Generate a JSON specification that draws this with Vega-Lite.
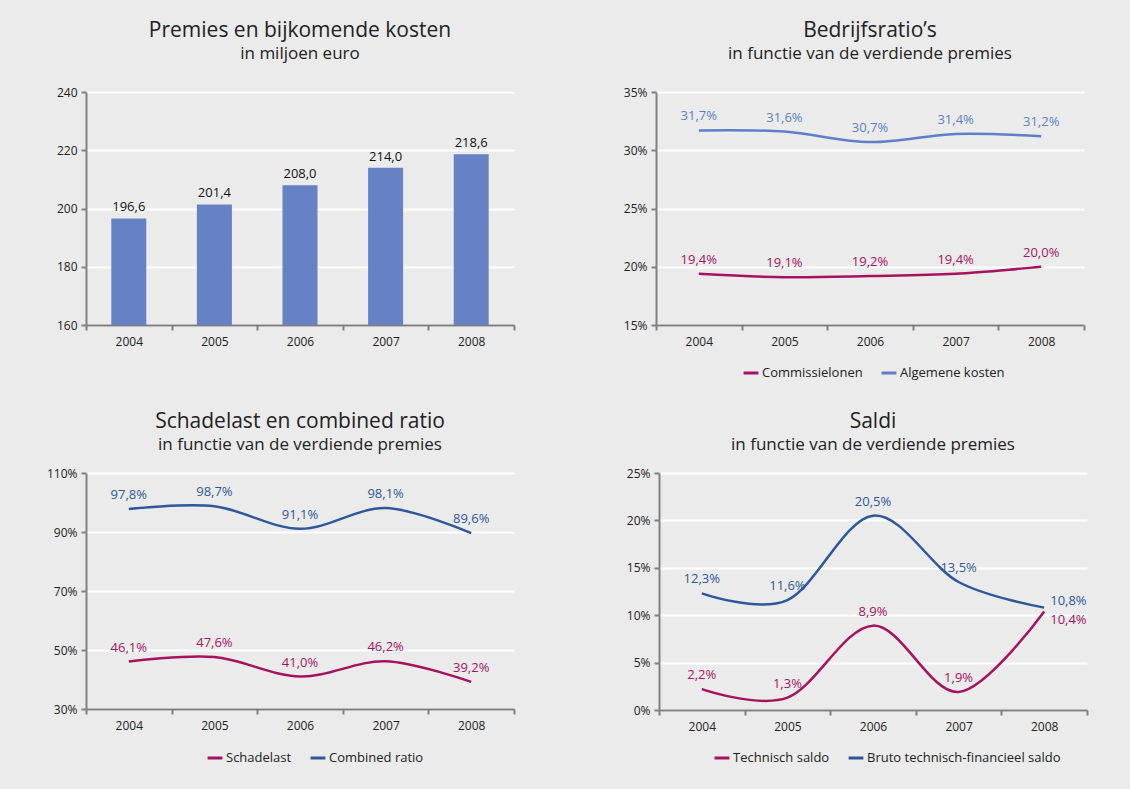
{
  "$schema": "https://vega.github.io/schema/vega-lite/v6.json",
  "background": "#ebebeb",
  "padding": {"left": 38, "top": 20, "right": 42, "bottom": 25},
  "datasets": {
    "premies": [
      {"year": "2004", "value": 196.6, "label": "196,6"},
      {"year": "2005", "value": 201.4, "label": "201,4"},
      {"year": "2006", "value": 208.0, "label": "208,0"},
      {"year": "2007", "value": 214.0, "label": "214,0"},
      {"year": "2008", "value": 218.6, "label": "218,6"}
    ],
    "ratios": [
      {"year": "2004", "series": "Commissielonen", "value": 19.4, "label": "19,4%"},
      {"year": "2005", "series": "Commissielonen", "value": 19.1, "label": "19,1%"},
      {"year": "2006", "series": "Commissielonen", "value": 19.2, "label": "19,2%"},
      {"year": "2007", "series": "Commissielonen", "value": 19.4, "label": "19,4%"},
      {"year": "2008", "series": "Commissielonen", "value": 20.0, "label": "20,0%"},
      {"year": "2004", "series": "Algemene kosten", "value": 31.7, "label": "31,7%"},
      {"year": "2005", "series": "Algemene kosten", "value": 31.6, "label": "31,6%"},
      {"year": "2006", "series": "Algemene kosten", "value": 30.7, "label": "30,7%"},
      {"year": "2007", "series": "Algemene kosten", "value": 31.4, "label": "31,4%"},
      {"year": "2008", "series": "Algemene kosten", "value": 31.2, "label": "31,2%"}
    ],
    "schade": [
      {"year": "2004", "series": "Schadelast", "value": 46.1, "label": "46,1%"},
      {"year": "2005", "series": "Schadelast", "value": 47.6, "label": "47,6%"},
      {"year": "2006", "series": "Schadelast", "value": 41.0, "label": "41,0%"},
      {"year": "2007", "series": "Schadelast", "value": 46.2, "label": "46,2%"},
      {"year": "2008", "series": "Schadelast", "value": 39.2, "label": "39,2%"},
      {"year": "2004", "series": "Combined ratio", "value": 97.8, "label": "97,8%"},
      {"year": "2005", "series": "Combined ratio", "value": 98.7, "label": "98,7%"},
      {"year": "2006", "series": "Combined ratio", "value": 91.1, "label": "91,1%"},
      {"year": "2007", "series": "Combined ratio", "value": 98.1, "label": "98,1%"},
      {"year": "2008", "series": "Combined ratio", "value": 89.6, "label": "89,6%"}
    ],
    "saldi": [
      {"year": "2004", "series": "Technisch saldo", "value": 2.2, "label": "2,2%"},
      {"year": "2005", "series": "Technisch saldo", "value": 1.3, "label": "1,3%"},
      {"year": "2006", "series": "Technisch saldo", "value": 8.9, "label": "8,9%"},
      {"year": "2007", "series": "Technisch saldo", "value": 1.9, "label": "1,9%"},
      {"year": "2008", "series": "Technisch saldo", "value": 10.4, "label": "10,4%"},
      {"year": "2004", "series": "Bruto technisch-financieel saldo", "value": 12.3, "label": "12,3%"},
      {"year": "2005", "series": "Bruto technisch-financieel saldo", "value": 11.6, "label": "11,6%"},
      {"year": "2006", "series": "Bruto technisch-financieel saldo", "value": 20.5, "label": "20,5%"},
      {"year": "2007", "series": "Bruto technisch-financieel saldo", "value": 13.5, "label": "13,5%"},
      {"year": "2008", "series": "Bruto technisch-financieel saldo", "value": 10.8, "label": "10,8%"}
    ]
  },
  "config": {
    "view": {"stroke": null},
    "font": "Open Sans",
    "axis": {
      "domainColor": "#808080", "domainWidth": 2, "tickColor": "#808080", "tickWidth": 2, "tickSize": 5,
      "labelFont": "Open Sans", "labelFontSize": 12, "labelColor": "#222222", "title": null,
      "gridColor": "#ffffff", "gridWidth": 2
    },
    "axisX": {"grid": false, "labelPadding": 6, "labelAngle": 0, "tickBand": "extent"},
    "axisY": {"grid": true, "labelPadding": 4},
    "title": {
      "font": "Open Sans", "fontSize": 21, "fontWeight": "normal", "color": "#222222",
      "subtitleFont": "Open Sans", "subtitleFontSize": 17, "subtitleColor": "#222222",
      "subtitlePadding": 5, "frame": "group", "anchor": "middle"
    },
    "legend": {
      "orient": "none", "direction": "horizontal", "title": null,
      "symbolType": "stroke", "symbolStrokeWidth": 3, "symbolSize": 220,
      "labelFont": "Open Sans", "labelFontSize": 13, "labelColor": "#222222",
      "labelOffset": 2, "columnPadding": 12, "labelLimit": 400
    }
  },
  "resolve": {"scale": {"color": "independent"}, "legend": {"color": "independent"}},
  "spacing": 31,
  "vconcat": [
    {
      "spacing": 101,
      "resolve": {"scale": {"color": "independent"}, "legend": {"color": "independent"}},
      "hconcat": [
        {
          "width": 428, "height": 233,
          "title": {"text": "Premies en bijkomende kosten", "subtitle": "in miljoen euro", "offset": 24},
          "data": {"name": "premies"},
          "encoding": {
            "x": {"field": "year", "type": "ordinal", "scale": {"type": "band", "paddingInner": 0, "paddingOuter": 0}},
            "y": {"field": "value", "type": "quantitative", "scale": {"domain": [160, 240], "nice": false, "zero": false},
                  "axis": {"values": [160, 180, 200, 220, 240], "minExtent": 48, "maxExtent": 48}}
          },
          "layer": [
            {"mark": {"type": "bar", "size": 35, "color": "#6781c5", "clip": true}},
            {"mark": {"type": "text", "baseline": "bottom", "dy": -4, "fontSize": 13, "color": "#111111"},
             "encoding": {"text": {"field": "label"}}}
          ]
        },
        {
          "width": 428, "height": 233,
          "title": {"text": "Bedrijfsratio’s", "subtitle": "in functie van de verdiende premies", "offset": 24},
          "data": {"name": "ratios"},
          "encoding": {
            "x": {"field": "year", "type": "ordinal", "scale": {"type": "band", "paddingInner": 0, "paddingOuter": 0}},
            "y": {"field": "value", "type": "quantitative", "scale": {"domain": [15, 35], "nice": false, "zero": false},
                  "axis": {"values": [15, 20, 25, 30, 35], "labelExpr": "datum.value + '%'", "minExtent": 40, "maxExtent": 40}},
            "color": {"field": "series", "type": "nominal",
                      "scale": {"domain": ["Commissielonen", "Algemene kosten"], "range": ["#a5135f", "#5e7fc8"]},
                      "legend": {"legendX": 86, "legendY": 272}}
          },
          "layer": [
            {"mark": {"type": "line", "interpolate": "cardinal", "strokeWidth": 2.5}},
            {"mark": {"type": "text", "baseline": "bottom", "dy": -7, "fontSize": 13},
             "encoding": {"text": {"field": "label"}, "color": {"field": "series", "type": "nominal", "legend": null}}}
          ]
        }
      ]
    },
    {
      "spacing": 104,
      "resolve": {"scale": {"color": "independent"}, "legend": {"color": "independent"}},
      "hconcat": [
        {
          "width": 428, "height": 236,
          "title": {"text": "Schadelast en combined ratio", "subtitle": "in functie van de verdiende premies", "offset": 14},
          "data": {"name": "schade"},
          "encoding": {
            "x": {"field": "year", "type": "ordinal", "scale": {"type": "band", "paddingInner": 0, "paddingOuter": 0}},
            "y": {"field": "value", "type": "quantitative", "scale": {"domain": [30, 110], "nice": false, "zero": false},
                  "axis": {"values": [30, 50, 70, 90, 110], "labelExpr": "datum.value + '%'", "minExtent": 42, "maxExtent": 42}},
            "color": {"field": "series", "type": "nominal",
                      "scale": {"domain": ["Schadelast", "Combined ratio"], "range": ["#a5135f", "#2e5899"]},
                      "legend": {"legendX": 120, "legendY": 276}}
          },
          "layer": [
            {"mark": {"type": "line", "interpolate": "cardinal", "strokeWidth": 2.5}},
            {"mark": {"type": "text", "baseline": "bottom", "dy": -7, "fontSize": 13},
             "encoding": {"text": {"field": "label"}, "color": {"field": "series", "type": "nominal", "legend": null}}}
          ]
        },
        {
          "width": 428, "height": 237,
          "title": {"text": "Saldi", "subtitle": "in functie van de verdiende premies", "offset": 14},
          "data": {"name": "saldi"},
          "encoding": {
            "x": {"field": "year", "type": "ordinal", "scale": {"type": "band", "paddingInner": 0, "paddingOuter": 0}},
            "y": {"field": "value", "type": "quantitative", "scale": {"domain": [0, 25], "nice": false},
                  "axis": {"values": [0, 5, 10, 15, 20, 25], "labelExpr": "datum.value + '%'", "minExtent": 40, "maxExtent": 40}},
            "color": {"field": "series", "type": "nominal",
                      "scale": {"domain": ["Technisch saldo", "Bruto technisch-financieel saldo"], "range": ["#a5135f", "#2e5899"]},
                      "legend": {"legendX": 54, "legendY": 276}}
          },
          "layer": [
            {"mark": {"type": "line", "interpolate": "cardinal", "strokeWidth": 2.5}},
            {"transform": [{"filter": "datum.year != '2008'"}],
             "mark": {"type": "text", "baseline": "bottom", "dy": -7, "fontSize": 13},
             "encoding": {"text": {"field": "label"}, "color": {"field": "series", "type": "nominal", "legend": null}}},
            {"transform": [{"filter": "datum.year == '2008' && datum.series == 'Bruto technisch-financieel saldo'"}],
             "mark": {"type": "text", "baseline": "middle", "align": "left", "dx": 6, "dy": -7, "fontSize": 13},
             "encoding": {"text": {"field": "label"}, "color": {"field": "series", "type": "nominal", "legend": null}}},
            {"transform": [{"filter": "datum.year == '2008' && datum.series == 'Technisch saldo'"}],
             "mark": {"type": "text", "baseline": "middle", "align": "left", "dx": 6, "dy": 9, "fontSize": 13},
             "encoding": {"text": {"field": "label"}, "color": {"field": "series", "type": "nominal", "legend": null}}}
          ]
        }
      ]
    }
  ]
}
